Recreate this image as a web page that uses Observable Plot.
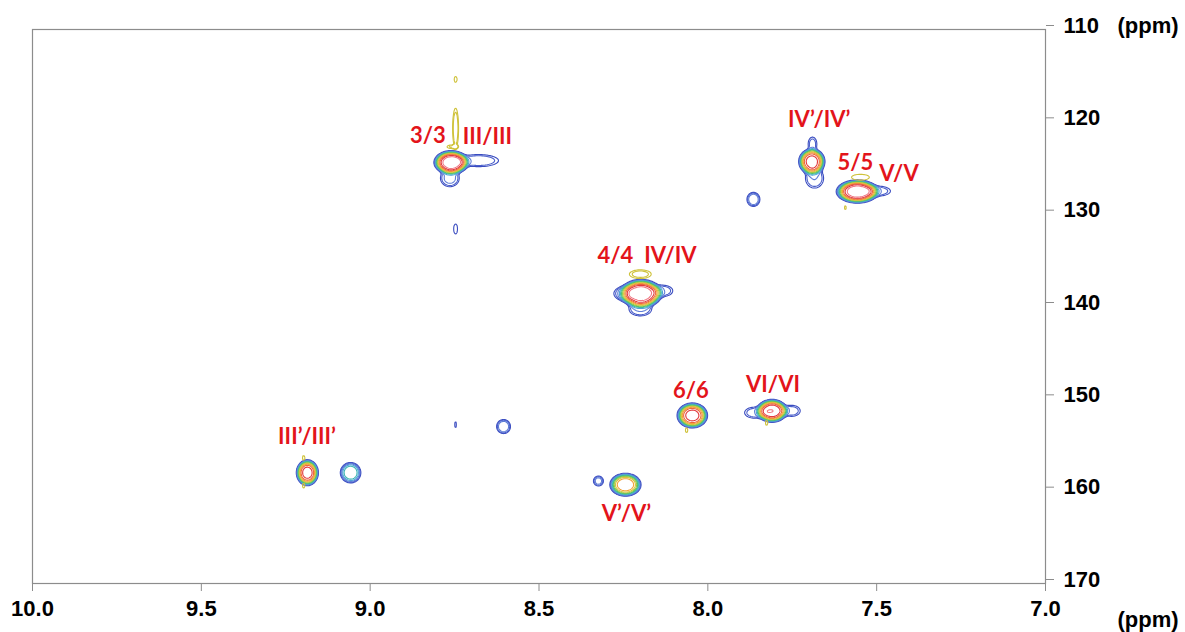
<!DOCTYPE html>
<html>
<head>
<meta charset="utf-8">
<script src="https://cdn.jsdelivr.net/npm/d3@7"></script>
<script src="https://cdn.jsdelivr.net/npm/@observablehq/plot@0.6"></script>
<style>
  html, body { margin: 0; padding: 0; background: #fff; }
  #chart svg { display: block; font-family: "Liberation Sans", Arial, sans-serif; }
</style>
</head>
<body>
<div id="chart"></div>
<script>
// ---- Axis ticks ----
const xTicks = [10.0, 9.5, 9.0, 8.5, 8.0, 7.5, 7.0];
const yTicks = [110, 120, 130, 140, 150, 160, 170];

// ---- Positive cross-peaks (1H ppm, 13C ppm, widths in ppm, intensity) ----
const peakH   = [8.760, 8.679, 8.764, 8.747, 7.692, 7.690, 7.684, 7.557, 7.495, 7.865, 8.198, 8.250, 8.132, 8.200, 8.046, 7.810, 7.862, 7.752, 9.186, 9.058, 8.747, 8.605, 8.244, 8.324];
const peakC   = [124.4, 124.2, 126.1, 131.6, 124.3, 122.4, 126.1, 127.55, 127.5, 128.4, 138.6, 138.6, 138.3, 140.3, 151.8, 151.3, 151.5, 151.3, 158.0, 158.0, 152.8, 153.0, 159.3, 158.9];
const peakWH  = [0.040, 0.0675, 0.030, 0.0083, 0.031, 0.0156, 0.030, 0.049, 0.042, 0.0196, 0.049, 0.033, 0.033, 0.037, 0.036, 0.036, 0.034, 0.030, 0.026, 0.028, 0.0045, 0.021, 0.038, 0.0157];
const peakWC  = [1.0, 0.75, 1.0, 0.76, 1.12, 0.9, 1.2, 0.98, 0.62, 0.78, 1.2, 0.8, 0.7, 0.8, 1.08, 0.98, 0.7, 0.7, 1.12, 1.02, 0.5, 0.78, 1.02, 0.57];
const peakAmp = [15, 1.8, 2.1, 1.3, 12, 1.6, 1.9, 15, 1.7, 2.5, 15, 1.7, 1.7, 1.9, 12, 13, 1.7, 1.7, 12, 4, 1.2, 2.5, 9, 2.2];

// ---- Negative (yellow) features ----
const negH   = [8.747, 8.756, 8.747, 7.548, 8.200, 8.063, 7.826, 9.197, 9.197, 7.593];
const negC   = [120.7, 122.7, 115.4, 126.0, 136.5, 153.4, 152.6, 156.4, 159.4, 129.3];
const negWH  = [0.0097, 0.02, 0.0068, 0.037, 0.037, 0.006, 0.006, 0.006, 0.006, 0.005];
const negWC  = [2.4, 0.25, 0.5, 0.45, 0.54, 0.4, 0.4, 0.4, 0.4, 0.35];
const negAmp = [2, 1.6, 1.2, 1.3, 1.8, 1.2, 1.2, 1.2, 1.2, 1.15];

// ---- Contour levels and colours (outer -> inner) ----
const levels = [1, 1.4, 1.9, 2.5, 3.2, 4, 5, 6.2, 7.6, 9.2, 11, 13];
const levelColors = ["#3a4cc0", "#4a5fcc", "#5f7ed6", "#4fa2d8", "#3cb6b2", "#4cbf6e", "#8fcb4c", "#d4c63c", "#f2a23a", "#ec6a3c", "#e23a3e", "#f07a86"];
const negLevels = [1, 1.5];
const negColor = "#cfc23a";

// ---- Labels ----
const labelText = ["3/3", "III/III", "IV\u2019/IV\u2019", "5/5", "V/V", "4/4", "IV/IV", "6/6", "VI/VI", "III\u2019/III\u2019", "V\u2019/V\u2019"];
const labelH    = [8.829, 8.653, 7.670, 7.563, 7.434, 8.274, 8.111, 8.050, 7.807, 9.187, 8.241];
const labelC    = [121.5, 121.6, 119.8, 124.46, 125.66, 134.5, 134.5, 149.1, 148.5, 154.1, 162.5];

// field functions built from the arrays
function field(H, C, WH, WC, A) {
  const n = H.length;
  return (x, y) => {
    let s = 0;
    for (let i = 0; i < n; i++) {
      const dx = (x - H[i]) / WH[i];
      const dy = (y - C[i]) / WC[i];
      const q = dx * dx + dy * dy;
      if (q < 9) s += A[i] * Math.exp(-q * q);
    }
    return s;
  };
}
const posField = field(peakH, peakC, peakWH, peakWC, peakAmp);
const negField = field(negH, negC, negWH, negWC, negAmp);

const labels = labelText.map((t, i) => ({t, h: labelH[i], c: labelC[i]}));

const W = 1185, H = 632;
const chart = Plot.plot({
  width: W,
  height: H,
  marginLeft: 32,
  marginRight: 140,
  marginTop: 29,
  marginBottom: 49,
  x: {domain: [10, 7], ticks: xTicks},
  y: {domain: [110, 170], reverse: true, ticks: yTicks},
  color: {type: "ordinal", domain: levels, range: levelColors},
  marks: [
    Plot.contour({
      x1: 10, x2: 7, y1: 110, y2: 170,
      stroke: posField,
      fill: "none",
      thresholds: levels,
      pixelSize: 1,
      strokeWidth: 1.1
    }),
    Plot.contour({
      x1: 10, x2: 7, y1: 110, y2: 170,
      value: negField,
      stroke: negColor,
      fill: "none",
      thresholds: negLevels,
      pixelSize: 1,
      strokeWidth: 1.1
    }),
    Plot.frame({stroke: "#8c8c8c", strokeWidth: 1.2}),
    Plot.axisX({
      ticks: xTicks, tickFormat: d3.format(".1f"), tickSize: 8, tickPadding: 9,
      stroke: "#8c8c8c", fill: "#000", fontSize: 22, fontWeight: "bold", label: null
    }),
    Plot.axisY({
      anchor: "right", ticks: yTicks, tickSize: 8, tickPadding: 10, dy: -4,
      stroke: "#8c8c8c", fill: "#000", fontSize: 22, fontWeight: "bold", label: null
    }),
    Plot.text(["(ppm)"], {x: 7, y: 110, text: d => d, dx: 72, dy: -4, textAnchor: "start", fontSize: 22, fontWeight: "bold", fill: "#000"}),
    Plot.text(["(ppm)"], {x: 7, y: 170, text: d => d, dx: 72, dy: 36, textAnchor: "start", fontSize: 22, fontWeight: "bold", fill: "#000"}),
    Plot.text(labels, {x: "h", y: "c", text: "t", fill: "#e3141b", fontSize: 22, fontWeight: "bold", fontFamily: "Lato, 'Open Sans', sans-serif"})
  ]
});
document.getElementById("chart").appendChild(chart);
</script>
</body>
</html>
